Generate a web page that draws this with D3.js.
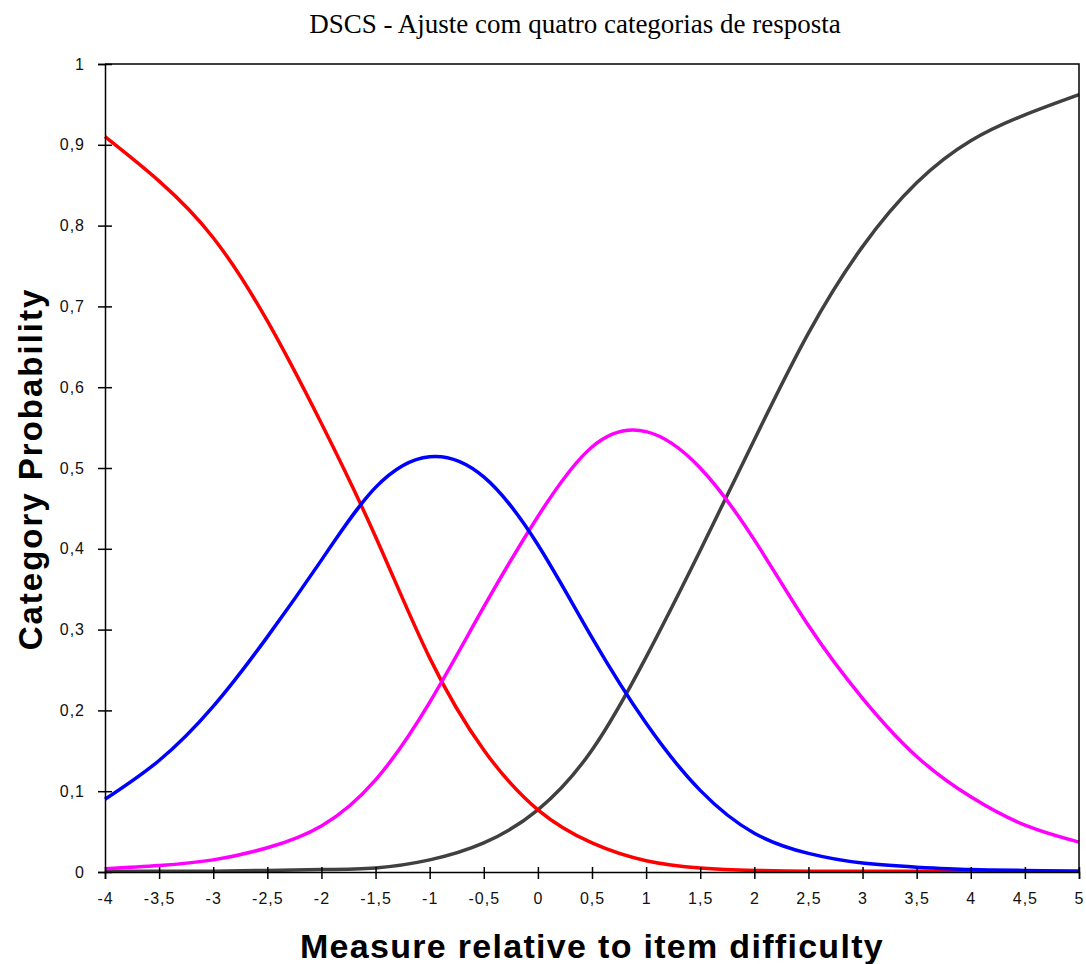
<!DOCTYPE html>
<html lang="pt">
<head>
<meta charset="utf-8" />
<title>DSCS - Ajuste com quatro categorias de resposta</title>
<style>
  body { margin: 0; background: #fff; }
</style>
</head>
<body>
<div id="chart"></div>
<script src="https://d3js.org/d3.v7.min.js"></script>
<script>
const measures = [-4, -3.5, -3, -2.5, -2, -1.5, -1, -0.5, 0, 0.5, 1, 1.5, 2, 2.5, 3, 3.5, 4, 4.5, 5];

// category probabilities
const cat1 = [0.910, 0.855, 0.785, 0.682, 0.555, 0.415, 0.265, 0.151, 0.077, 0.036, 0.014, 0.005, 0.002, 0.001, 0.001, 0.001, 0.001, 0.001, 0.001];
const cat2 = [0.090, 0.138, 0.205, 0.291, 0.386, 0.476, 0.514, 0.489, 0.405, 0.290, 0.184, 0.101, 0.048, 0.023, 0.011, 0.006, 0.003, 0.002, 0.001];
const cat3 = [0.004, 0.008, 0.015, 0.030, 0.057, 0.114, 0.210, 0.328, 0.440, 0.526, 0.545, 0.500, 0.411, 0.305, 0.215, 0.143, 0.093, 0.058, 0.037];
const cat4 = [0.001, 0.001, 0.001, 0.002, 0.003, 0.005, 0.015, 0.036, 0.077, 0.151, 0.266, 0.398, 0.535, 0.667, 0.774, 0.853, 0.905, 0.937, 0.962];

const xTicks = [-4, -3.5, -3, -2.5, -2, -1.5, -1, -0.5, 0, 0.5, 1, 1.5, 2, 2.5, 3, 3.5, 4, 4.5, 5];
const yTicks = [0, 0.1, 0.2, 0.3, 0.4, 0.5, 0.6, 0.7, 0.8, 0.9, 1];

const series = [
    { name: "4", values: cat4, color: "#404040" },
    { name: "1", values: cat1, color: "#ff0000" },
    { name: "3", values: cat3, color: "#ff00ff" },
    { name: "2", values: cat2, color: "#0000ff" }
];

const W = 1086, H = 964;
const margin = { top: 64, right: 7, bottom: 92, left: 105 };
const width = W - margin.left - margin.right;
const height = H - margin.top - margin.bottom;

const comma = v => String(v).replace(".", ",");

const svg = d3.select("#chart")
    .append("svg")
    .attr("width", W)
    .attr("height", H);

const g = svg.append("g")
    .attr("transform", `translate(${margin.left},${margin.top})`);

const x = d3.scaleLinear().domain([-4, 5]).range([0, width]);
const y = d3.scaleLinear().domain([0, 1]).range([height, 0]);

// curves
const line = d3.line()
    .x((d, i) => x(measures[i]))
    .y(d => y(d))
    .curve(d3.curveNatural);

g.selectAll("path.curve")
    .data(series)
    .join("path")
    .attr("class", "curve")
    .attr("d", d => line(d.values))
    .attr("fill", "none")
    .attr("stroke", d => d.color)
    .attr("stroke-width", 3.5)
    .attr("stroke-linejoin", "round");

// frame (top and right)
g.append("path")
    .attr("d", `M0,0H${width}V${height}`)
    .attr("fill", "none")
    .attr("stroke", "#000")
    .attr("stroke-width", 1.5);

// axes
const xAxis = g.append("g")
    .attr("transform", `translate(0,${height})`)
    .call(d3.axisBottom(x).tickValues(xTicks).tickFormat(comma).tickSize(7).tickPadding(14));

xAxis.selectAll(".tick line").attr("y1", -5);

const yAxis = g.append("g")
    .call(d3.axisLeft(y).tickValues(yTicks).tickFormat(comma).tickSize(7).tickPadding(13));

yAxis.selectAll(".tick line").attr("x1", 7);

[xAxis, yAxis].forEach(a => {
    a.select(".domain").attr("stroke", "#000").attr("stroke-width", 1.5);
    a.selectAll(".tick line").attr("stroke", "#000").attr("stroke-width", 1.5);
    a.selectAll(".tick text")
        .attr("fill", "#111")
        .style("font-family", "'Liberation Sans', Arial, sans-serif")
        .style("font-size", "16px")
        .style("letter-spacing", "1px");
});

// title
svg.append("text")
    .attr("x", 575)
    .attr("y", 33)
    .attr("text-anchor", "middle")
    .style("font-family", "'Liberation Serif', 'Times New Roman', serif")
    .style("font-size", "27px")
    .text("DSCS - Ajuste com quatro categorias de resposta");

// axis titles
svg.append("text")
    .attr("x", 592)
    .attr("y", 958)
    .attr("text-anchor", "middle")
    .style("font-family", "'Liberation Sans', Arial, sans-serif")
    .style("font-weight", "bold")
    .style("font-size", "34px")
    .style("letter-spacing", "1.3px")
    .text("Measure relative to item difficulty");

svg.append("text")
    .attr("transform", "translate(42,469) rotate(-90)")
    .attr("text-anchor", "middle")
    .style("font-family", "'Liberation Sans', Arial, sans-serif")
    .style("font-weight", "bold")
    .style("font-size", "33px")
    .style("letter-spacing", "2px")
    .text("Category Probability");
</script>
</body>
</html>
